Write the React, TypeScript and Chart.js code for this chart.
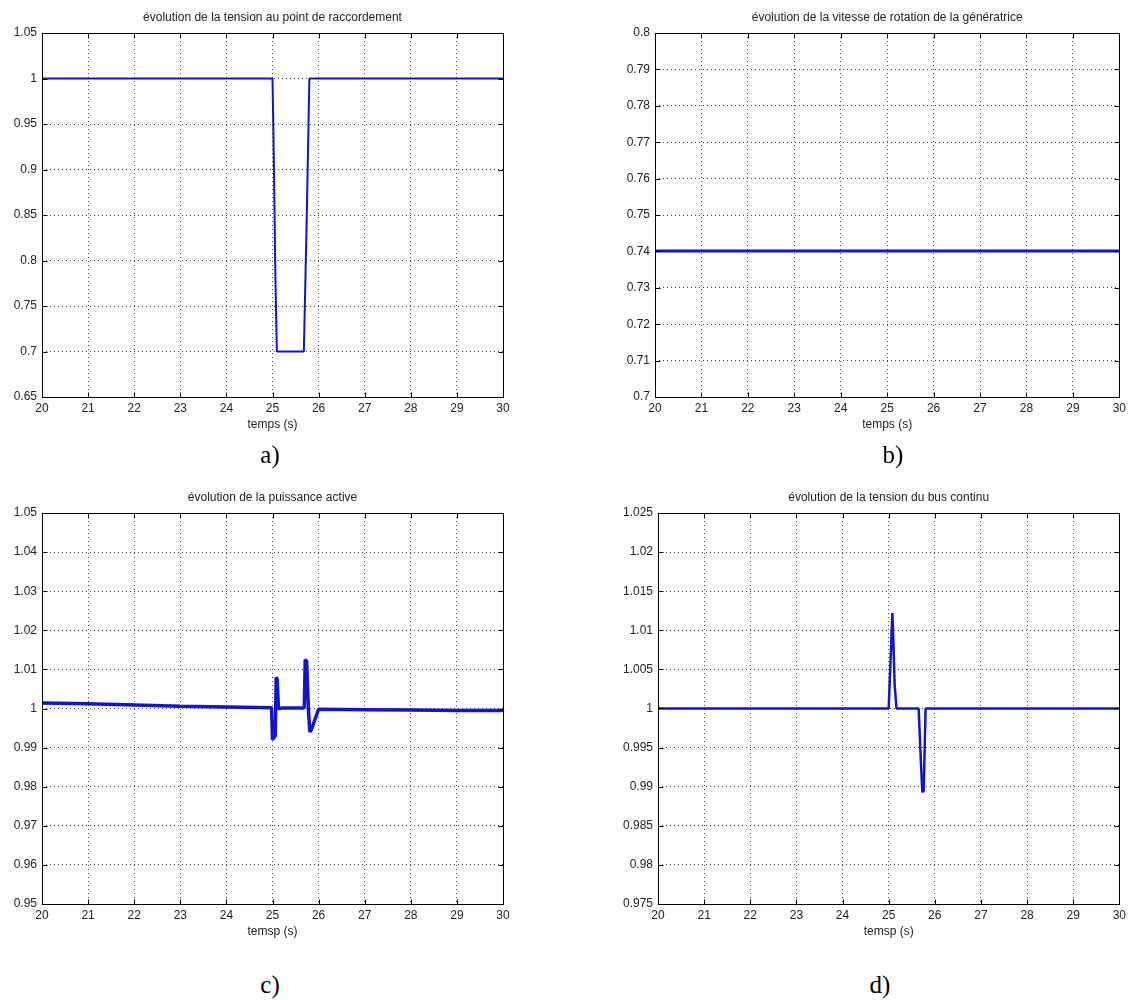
import React, { useEffect, useRef } from "react";
import { Chart, registerables } from "chart.js";

Chart.register(...registerables);

// ---------- data ----------
const xTicks = [20, 21, 22, 23, 24, 25, 26, 27, 28, 29, 30];

// a) tension au point de raccordement
const timeA = [20, 25.0, 25.02, 25.04, 25.06, 25.094, 25.68, 25.71, 25.74, 25.77, 25.8, 30];
const voltA = [1, 1, 0.94, 0.87, 0.79, 0.7, 0.7, 0.77, 0.84, 0.92, 1, 1];
const yTicksA = [0.65, 0.7, 0.75, 0.8, 0.85, 0.9, 0.95, 1, 1.05];

// b) vitesse de rotation
const timeB = [20, 30];
const speedB = [0.7401, 0.7401];
const yTicksB = [0.7, 0.71, 0.72, 0.73, 0.74, 0.75, 0.76, 0.77, 0.78, 0.79, 0.8];

// c) puissance active
const timeC = [20, 21, 22, 23, 24, 24.98, 25.0, 25.03, 25.06, 25.08, 25.1, 25.13, 25.2, 25.68, 25.69, 25.71, 25.74, 25.78, 25.81, 25.84, 26, 27, 28, 29, 30];
const powerC = [1.0014, 1.0012, 1.0009, 1.0006, 1.0004, 1.0002, 0.992, 0.9925, 0.993, 1.008, 1.0075, 0.9999, 1.0001, 1.0001, 1.0005, 1.0125, 1.012, 0.9995, 0.994, 0.9945, 0.9998, 0.9997, 0.9996, 0.9995, 0.9995];
const yTicksC = [0.95, 0.96, 0.97, 0.98, 0.99, 1, 1.01, 1.02, 1.03, 1.04, 1.05];

// d) tension du bus continu
const timeD = [20, 25.0, 25.04, 25.08, 25.1, 25.13, 25.17, 25.65, 25.7, 25.73, 25.76, 25.8, 30];
const busD = [1.0, 1.0, 1.006, 1.0122, 1.009, 1.003, 1.0, 1.0, 0.993, 0.9893, 0.9895, 1.0, 1.0];
const yTicksD = [0.975, 0.98, 0.985, 0.99, 0.995, 1, 1.005, 1.01, 1.015, 1.02, 1.025];

const titles = [
  "évolution de la tension au point de raccordement",
  "évolution de la vitesse de rotation de la génératrice",
  "évolution de la puissance active",
  "évolution de la tension du bus continu",
];
const xLabels = ["temps (s)", "temps (s)", "temsp (s)", "temsp (s)"];
const panelLetters = ["a)", "b)", "c)", "d)"];

// ---------- styling / layout ----------
const LINE_COLOR = "#1414c8";
const FONT = '"Liberation Sans", Arial, sans-serif';
const TEXT_COLOR = "#222";

const fmt = (v: number) => String(parseFloat(Number(v).toFixed(4)));

const framePlugin = {
  id: "matlabFrame",
  afterDraw(chart: any, _args: any, opts: any) {
    const { ctx, chartArea } = chart;
    const { left, right, top, bottom } = chartArea;
    const L = Math.round(left) + 0.5;
    const R = Math.round(right) + 0.5;
    const T = Math.round(top) + 0.5;
    const B = Math.round(bottom) + 0.5;
    ctx.save();
    ctx.setLineDash([]);
    ctx.strokeStyle = "#000";
    ctx.lineWidth = 1;
    ctx.strokeRect(L, T, R - L, B - T);
    const tl = 5;
    ctx.beginPath();
    for (const v of opts.xTicks) {
      const px = Math.round(chart.scales.x.getPixelForValue(v)) + 0.5;
      ctx.moveTo(px, B);
      ctx.lineTo(px, B - tl);
      ctx.moveTo(px, T);
      ctx.lineTo(px, T + tl);
    }
    for (const v of opts.yTicks) {
      const py = Math.round(chart.scales.y.getPixelForValue(v)) + 0.5;
      ctx.moveTo(L, py);
      ctx.lineTo(L + tl, py);
      ctx.moveTo(R, py);
      ctx.lineTo(R - tl, py);
    }
    ctx.stroke();
    ctx.fillStyle = TEXT_COLOR;
    ctx.font = `12px ${FONT}`;
    ctx.textAlign = "center";
    ctx.textBaseline = "middle";
    ctx.fillText(opts.title, (left + right) / 2, top - 15);
    ctx.restore();
  },
};

type Panel = {
  times: number[];
  values: number[];
  yTicks: number[];
  title: string;
  xLabel: string;
  canvasLeft: number;
  canvasTop: number;
  width: number;
  height: number;
  yAxisWidth: number;
  padTop: number;
  padRight: number;
  padBottom: number;
  lineWidth: number;
};

const panels: Panel[] = [
  { times: timeA, values: voltA, yTicks: yTicksA, title: titles[0], xLabel: xLabels[0],
    canvasLeft: 0, canvasTop: 0, width: 565, height: 440, yAxisWidth: 42, padTop: 33, padRight: 62, padBottom: 8, lineWidth: 2 },
  { times: timeB, values: speedB, yTicks: yTicksB, title: titles[1], xLabel: xLabels[1],
    canvasLeft: 565, canvasTop: 0, width: 565, height: 440, yAxisWidth: 90, padTop: 33, padRight: 8, padBottom: 8, lineWidth: 3 },
  { times: timeC, values: powerC, yTicks: yTicksC, title: titles[2], xLabel: xLabels[2],
    canvasLeft: 0, canvasTop: 470, width: 565, height: 480, yAxisWidth: 42, padTop: 43, padRight: 62, padBottom: 11, lineWidth: 3.5 },
  { times: timeD, values: busD, yTicks: yTicksD, title: titles[3], xLabel: xLabels[3],
    canvasLeft: 565, canvasTop: 470, width: 565, height: 480, yAxisWidth: 93, padTop: 43, padRight: 8, padBottom: 11, lineWidth: 2.5 },
];

function PlotPanel({ p }: { p: Panel }) {
  const ref = useRef<HTMLCanvasElement | null>(null);
  useEffect(() => {
    if (!ref.current) return;
    const data = p.times.map((t, i) => ({ x: t, y: p.values[i] }));
    const chart = new Chart(ref.current, {
      type: "line",
      data: {
        datasets: [
          {
            data,
            borderColor: LINE_COLOR,
            borderWidth: p.lineWidth,
            pointRadius: 0,
            tension: 0,
            fill: false,
            borderJoinStyle: "bevel",
          } as any,
        ],
      },
      options: {
        animation: false,
        responsive: false,
        devicePixelRatio: 1,
        layout: { padding: { top: p.padTop, right: p.padRight, bottom: p.padBottom, left: 0 } },
        plugins: {
          legend: { display: false },
          tooltip: { enabled: false },
          title: { display: false },
          matlabFrame: { xTicks, yTicks: p.yTicks, title: p.title },
        } as any,
        scales: {
          x: {
            type: "linear",
            min: 20,
            max: 30,
            afterBuildTicks: (scale: any) => {
              scale.ticks = xTicks.map((v) => ({ value: v }));
            },
            afterFit: (scale: any) => {
              scale.height = 35;
            },
            ticks: {
              autoSkip: false,
              maxRotation: 0,
              padding: 4,
              color: TEXT_COLOR,
              font: { family: FONT, size: 12 },
              callback: (v: any) => fmt(v),
            },
            grid: { color: "#444", lineWidth: 1, drawTicks: false },
            border: { display: false, dash: [1, 3] },
            title: {
              display: true,
              text: p.xLabel,
              color: TEXT_COLOR,
              font: { family: FONT, size: 12 },
              padding: 0,
            },
          },
          y: {
            type: "linear",
            min: p.yTicks[0],
            max: p.yTicks[p.yTicks.length - 1],
            afterBuildTicks: (scale: any) => {
              scale.ticks = p.yTicks.map((v) => ({ value: v }));
            },
            afterFit: (scale: any) => {
              scale.width = p.yAxisWidth;
            },
            ticks: {
              autoSkip: false,
              padding: 5,
              color: TEXT_COLOR,
              font: { family: FONT, size: 12 },
              callback: (v: any) => fmt(v),
            },
            grid: { color: "#444", lineWidth: 1, drawTicks: false },
            border: { display: false, dash: [1, 3] },
          },
        },
      },
      plugins: [framePlugin],
    });
    return () => chart.destroy();
  }, [p]);
  return (
    <canvas
      ref={ref}
      width={p.width}
      height={p.height}
      style={{ position: "absolute", left: p.canvasLeft, top: p.canvasTop, width: p.width, height: p.height }}
    />
  );
}

const letterPos = [
  { x: 270, y: 455 },
  { x: 893, y: 455 },
  { x: 270, y: 985 },
  { x: 880, y: 985 },
];

export default function App() {
  return (
    <div style={{ position: "absolute", left: 0, top: 0, width: 1130, height: 1000, background: "#fff", overflow: "hidden" }}>
      {panels.map((p, i) => (
        <PlotPanel key={i} p={p} />
      ))}
      {panelLetters.map((l, i) => (
        <div
          key={l}
          style={{
            position: "absolute",
            left: letterPos[i].x - 30,
            top: letterPos[i].y - 16,
            width: 60,
            height: 32,
            lineHeight: "32px",
            textAlign: "center",
            fontFamily: '"Liberation Serif", "Times New Roman", serif',
            fontSize: 25,
            color: "#000",
          }}
        >
          {l}
        </div>
      ))}
    </div>
  );
}
